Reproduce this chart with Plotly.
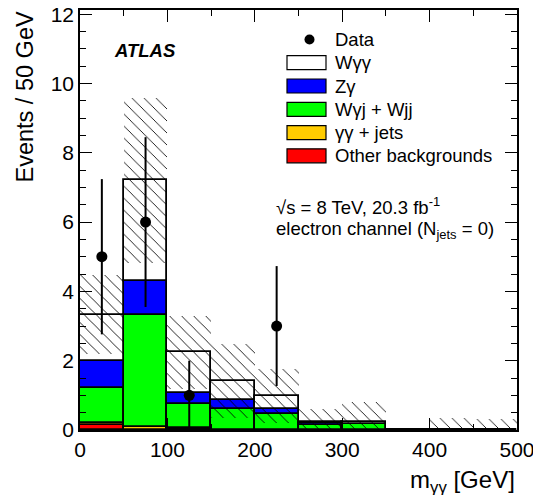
import numpy as np
import plotly.graph_objects as go

# ---------------- data ----------------
bin_lo = [0, 50, 100, 150, 200, 250, 300, 350, 400, 450]
bin_width = 50
other_bkg = [0.15, 0.00, 0.04, 0.00, 0.00, 0.00, 0.00, 0.00, 0.00, 0.00]
gg_jets   = [0.04, 0.08, 0.01, 0.00, 0.00, 0.00, 0.00, 0.00, 0.00, 0.00]
wgj_wjj   = [1.03, 3.25, 0.70, 0.62, 0.46, 0.15, 0.17, 0.00, 0.00, 0.00]
z_gamma   = [0.77, 0.97, 0.32, 0.24, 0.15, 0.05, 0.01, 0.00, 0.00, 0.00]
w_gg      = [1.34, 2.91, 1.17, 0.56, 0.38, 0.04, 0.06, 0.00, 0.01, 0.01]
syst_err  = [1.15, 2.38, 1.06, 1.07, 0.78, 0.37, 0.57, 0.00, 0.33, 0.30]

data_x    = [25, 75, 125, 225]
data_y    = [5, 6, 1, 3]
data_err  = [2.24, 2.45, 1.00, 1.73]

legend_labels = ["Data", "Wγγ", "Zγ", "Wγj + Wjj", "γγ + jets", "Other backgrounds"]

# ---------------- figure ----------------
FONT = "Liberation Sans"
centers = np.array(bin_lo) + bin_width / 2
components = [
    (other_bkg, "#ff0000"),
    (gg_jets, "#ffcc00"),
    (wgj_wjj, "#00ff00"),
    (z_gamma, "#0000ff"),
    (w_gg, "#ffffff"),
]

fig = go.Figure()
base = np.zeros(len(bin_lo))
for vals, col in components:
    v = np.array(vals)
    fig.add_trace(go.Bar(
        x=centers, y=v, base=base, width=bin_width,
        marker=dict(color=col, line=dict(color="black", width=1.8)),
        showlegend=False, hoverinfo="skip"))
    base = base + v
total = base
err = np.array(syst_err)
lo = np.maximum(total - err, 0)
hi = total + err
fig.add_trace(go.Bar(
    x=centers, y=hi - lo, base=lo, width=bin_width,
    marker=dict(color="rgba(0,0,0,0)", line=dict(width=0),
                pattern=dict(shape="\\", fgcolor="black", bgcolor="rgba(0,0,0,0)",
                             fgopacity=1, size=8.5, solidity=0.1, fillmode="overlay")),
    showlegend=False, hoverinfo="skip"))

fig.add_trace(go.Scatter(
    x=data_x, y=data_y, mode="markers",
    marker=dict(color="black", size=11),
    error_y=dict(type="data", array=data_err, color="black", thickness=2, width=0),
    showlegend=False))

# pixel -> paper helpers
L, R, T, B = 80, 517, 10, 430
def px(x):
    return (x - L) / (R - L)
def py(y):
    return (B - y) / (B - T)

shapes = []
annotations = []
row_y = [39.5, 62.7, 86.0, 109.3, 132.6, 155.8]
fills = [None, "#ffffff", "#0000ff", "#00ff00", "#ffcc00", "#ff0000"]
for i, lab in enumerate(legend_labels):
    yc = row_y[i]
    if i == 0:
        shapes.append(dict(type="circle", xref="paper", yref="paper",
                           x0=px(304.5), x1=px(314.5), y0=py(yc + 5), y1=py(yc - 5),
                           fillcolor="black", line=dict(color="black", width=0)))
    else:
        shapes.append(dict(type="rect", xref="paper", yref="paper",
                           x0=px(287), x1=px(326), y0=py(yc + 7), y1=py(yc - 7),
                           fillcolor=fills[i], line=dict(color="black", width=1.2)))
    annotations.append(dict(xref="paper", yref="paper", x=px(333), y=py(yc),
                            xanchor="left", yanchor="middle", showarrow=False,
                            text=lab, font=dict(size=18.5, color="black", family=FONT)))

annotations.append(dict(xref="paper", yref="paper", x=px(112), y=py(50.5),
                        xanchor="left", yanchor="middle", showarrow=False,
                        text="<b><i>ATLAS</i></b>",
                        font=dict(size=18.5, color="black", family=FONT)))
annotations.append(dict(xref="paper", yref="paper", x=px(274), y=py(206),
                        xanchor="left", yanchor="middle", showarrow=False,
                        text="√s = 8 TeV, 20.3 fb<sup>-1</sup>",
                        font=dict(size=18.5, color="black", family=FONT)))
annotations.append(dict(xref="paper", yref="paper", x=px(274), y=py(230),
                        xanchor="left", yanchor="middle", showarrow=False,
                        text="electron channel (N<sub>jets</sub> = 0)",
                        font=dict(size=18.5, color="black", family=FONT)))
annotations.append(dict(xref="paper", yref="paper", x=px(24), y=1.0,
                        xanchor="center", yanchor="top", showarrow=False,
                        textangle=-90, text="Events / 50 GeV",
                        font=dict(size=23.5, color="black", family=FONT)))
annotations.append(dict(xref="paper", yref="paper", x=1.0, y=py(481),
                        xanchor="right", yanchor="middle", showarrow=False,
                        text="m<sub>γγ</sub> [GeV]",
                        font=dict(size=24, color="black", family=FONT)))

axis_common = dict(showline=True, linecolor="black", linewidth=1.5, mirror="allticks",
                   ticks="inside", tickcolor="black", tickwidth=1.2, ticklen=12,
                   showgrid=False, zeroline=False, automargin=False,
                   ticklabeloverflow="allow",
                   tickfont=dict(size=21, color="black", family=FONT))
fig.update_xaxes(range=[0, 500], dtick=100, tick0=0,
                 minor=dict(dtick=50, ticklen=6, ticks="inside", tickcolor="black", tickwidth=1.2),
                 **axis_common)
fig.update_yaxes(range=[0, 12.12], dtick=2, tick0=0,
                 minor=dict(dtick=0.5, ticklen=6, ticks="inside", tickcolor="black", tickwidth=1.2),
                 **axis_common)

fig.update_layout(
    width=533, height=495, barmode="overlay", bargap=0,
    margin=dict(l=L, r=533 - R, t=T, b=495 - B),
    plot_bgcolor="white", paper_bgcolor="white",
    font=dict(family=FONT, color="black"),
    shapes=shapes, annotations=annotations, showlegend=False,
)

fig.write_html("out.html")
